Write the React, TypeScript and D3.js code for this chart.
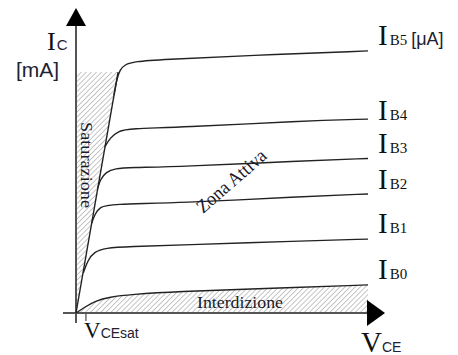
import React from "react";
import * as d3 from "d3";

const W = 458;
const H = 355;

// V_CE (a.u.) and I_C (mA), one pair of arrays per base current
const vB0 = [0, 0.31, 0.65, 1.16, 1.85, 3.56, 5.96, 10];
const iB0 = [0, 0.25, 0.5, 0.67, 0.77, 0.9, 1.0, 1.17];
const vB1 = [0.25, 0.41, 0.62, 0.99, 1.85, 3.56, 7.67, 10];
const iB1 = [1.67, 2.21, 2.54, 2.71, 2.77, 2.83, 3.0, 3.08];
const vB2 = [0.54, 0.65, 0.82, 1.16, 3.56, 7.67, 10];
const iB2 = [3.75, 4.13, 4.42, 4.54, 4.58, 4.85, 4.96];
const vB3 = [0.75, 0.82, 1.03, 1.34, 1.85, 3.56, 7.67, 10];
const iB3 = [5.21, 5.54, 5.88, 6.02, 6.06, 6.1, 6.33, 6.44];
const vB4 = [0.99, 1.16, 1.44, 1.85, 3.56, 7.67, 10];
const iB4 = [6.92, 7.29, 7.58, 7.69, 7.73, 8.0, 8.08];
const vB5 = [1.3, 1.4, 1.5, 1.66, 2.02, 2.88, 5.96, 10];
const iB5 = [9.08, 9.75, 10.12, 10.35, 10.48, 10.56, 10.73, 10.92];

const curveNames = ["B0", "B1", "B2", "B3", "B4", "B5"];
const curveV = [vB0, vB1, vB2, vB3, vB4, vB5];
const curveI = [iB0, iB1, iB2, iB3, iB4, iB5];

// saturation boundary line
const satV = [0, 1.44];
const satI = [0, 10.04];

const vceSat = 0.34;

// label nudges (px), layout only
const labelShift = [-6, -6, -5, -5, 1, -6];

type Pt = [number, number];

export default function App() {
  const x = d3.scaleLinear().domain([0, 10]).range([76, 368]);
  const y = d3.scaleLinear().domain([0, 12]).range([313, 25]);

  const line = d3
    .line<Pt>()
    .x((d) => x(d[0]))
    .y((d) => y(d[1]))
    .curve(d3.curveBasis);

  const series: Pt[][] = curveV.map((vs, k) => vs.map((v, j) => [v, curveI[k][j]] as Pt));

  const cutoffArea = d3
    .area<Pt>()
    .x((d) => x(d[0]))
    .y0(y(0))
    .y1((d) => y(d[1]))
    .curve(d3.curveBasis);

  const satTop = satI[1];
  const satPoly: Pt[] = [
    [satV[0], satI[0]],
    [0, satTop],
    [satV[1], satTop],
  ];
  const satPath =
    "M" + satPoly.map((p) => `${x(p[0])},${y(p[1])}`).join("L") + "Z";

  const x0 = x(0);
  const y0 = y(0);
  const serif = "'Liberation Serif', 'DejaVu Serif', serif";
  const sans = "'Liberation Sans', Arial, sans-serif";

  return (
    <svg
      width={W}
      height={H}
      style={{ position: "absolute", left: 0, top: 0, background: "#fff" }}
    >
      <defs>
        <pattern
          id="hatch"
          width={3.6}
          height={3.6}
          patternUnits="userSpaceOnUse"
          patternTransform="rotate(45)"
        >
          <line x1={0} y1={0} x2={0} y2={3.6} stroke="#8a8a8a" strokeWidth={1} />
        </pattern>
      </defs>

      {/* hatched regions */}
      <path d={satPath} fill="url(#hatch)" />
      <path d={cutoffArea(series[0]) || ""} fill="url(#hatch)" />

      {/* axes */}
      <line x1={x0} y1={y0 + 10} x2={x0} y2={26} stroke="#555" strokeWidth={2} />
      <path d={`M${x0},8L${x0 - 10},26L${x0 + 10},26Z`} fill="#000" />
      <line x1={63} y1={y0} x2={367} y2={y0} stroke="#555" strokeWidth={2} />
      <path d={`M385,${y0}L367,${y0 - 13}L367,${y0 + 13}Z`} fill="#000" />
      <line x1={x(vceSat)} y1={y0} x2={x(vceSat)} y2={y0 + 8} stroke="#555" strokeWidth={1.3} />

      {/* saturation line */}
      <line
        x1={x(satV[0])}
        y1={y(satI[0])}
        x2={x(satV[1])}
        y2={y(satI[1])}
        stroke="#222"
        strokeWidth={1.4}
      />

      {/* characteristic curves */}
      {series.map((s, k) => (
        <path key={k} d={line(s) || ""} fill="none" stroke="#222" strokeWidth={1.4} />
      ))}

      {/* curve labels */}
      {series.map((s, k) => {
        const last = s[s.length - 1];
        const ty = y(last[1]) + labelShift[k];
        return (
          <text key={k} x={x(last[0]) + 10} y={ty} fill="#111">
            <tspan fontFamily={serif} fontSize={29}>I</tspan>
            <tspan fontFamily={serif} fontSize={15} dx={2}>{curveNames[k]}</tspan>
            {k === 5 && (
              <tspan fontFamily={sans} fontSize={18} dx={4} fill="#1c2233">[μA]</tspan>
            )}
          </text>
        );
      })}

      {/* axis labels */}
      <text x={47} y={50} fill="#111">
        <tspan fontFamily={serif} fontSize={26}>I</tspan>
        <tspan fontFamily={sans} fontSize={15} dx={1} fill="#1c2233">C</tspan>
      </text>
      <text x={16} y={77} fontFamily={sans} fontSize={21} fill="#1c2233">
        [mA]
      </text>
      <text x={361} y={352} fill="#111">
        <tspan fontFamily={serif} fontSize={29}>V</tspan>
        <tspan fontFamily={sans} fontSize={14} fill="#1c2233">CE</tspan>
      </text>
      <text x={84} y={338} fill="#111">
        <tspan fontFamily={serif} fontSize={23}>V</tspan>
        <tspan fontFamily={sans} fontSize={14} fill="#1c2233">CEsat</tspan>
      </text>

      {/* region labels */}
      <text
        transform="translate(81,122) rotate(90)"
        fontFamily={serif}
        fontSize={17}
        fill="#1a1a2a"
        textLength={86}
        lengthAdjust="spacingAndGlyphs"
      >
        Saturazione
      </text>
      <text
        transform="translate(203,214) rotate(-41)"
        fontFamily={serif}
        fontSize={19}
        fill="#1a1a2a"
        textLength={86}
        lengthAdjust="spacingAndGlyphs"
      >
        Zona Attiva
      </text>
      <text
        x={197}
        y={308}
        fontFamily={serif}
        fontSize={17}
        fill="#1a1a2a"
        textLength={86}
        lengthAdjust="spacingAndGlyphs"
      >
        Interdizione
      </text>
    </svg>
  );
}
